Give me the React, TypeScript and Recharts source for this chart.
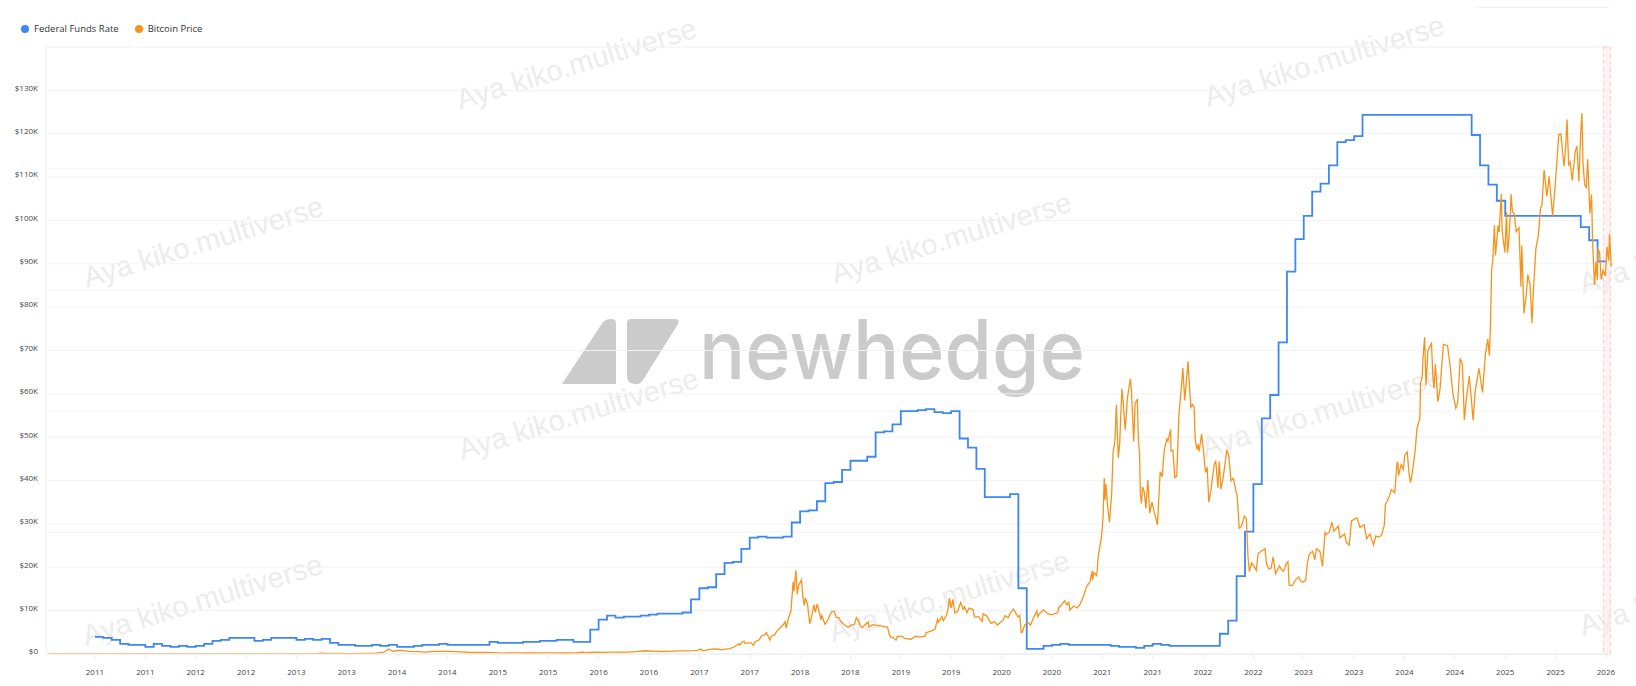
import React from "react";
import { LineChart, Line, XAxis, YAxis, CartesianGrid, ReferenceArea } from "recharts";

// Federal funds rate, monthly (%), Jan..Dec
const fed2011 = [0.17, 0.16, 0.14, 0.1, 0.09, 0.09, 0.07, 0.1, 0.08, 0.07, 0.08, 0.07];
const fed2012 = [0.08, 0.1, 0.13, 0.14, 0.16, 0.16, 0.16, 0.13, 0.14, 0.16, 0.16, 0.16];
const fed2013 = [0.14, 0.15, 0.14, 0.15, 0.11, 0.09, 0.09, 0.08, 0.08, 0.09, 0.08, 0.09];
const fed2014 = [0.07, 0.07, 0.08, 0.09, 0.09, 0.1, 0.09, 0.09, 0.09, 0.09, 0.09, 0.12];
const fed2015 = [0.11, 0.11, 0.11, 0.12, 0.12, 0.13, 0.13, 0.14, 0.14, 0.12, 0.12, 0.24];
const fed2016 = [0.34, 0.38, 0.36, 0.37, 0.37, 0.38, 0.39, 0.4, 0.4, 0.4, 0.41, 0.54];
const fed2017 = [0.65, 0.66, 0.79, 0.9, 0.91, 1.04, 1.15, 1.16, 1.15, 1.15, 1.16, 1.3];
const fed2018 = [1.41, 1.42, 1.51, 1.69, 1.7, 1.82, 1.91, 1.91, 1.95, 2.19, 2.2, 2.27];
const fed2019 = [2.4, 2.4, 2.41, 2.42, 2.39, 2.38, 2.4, 2.13, 2.04, 1.83, 1.55, 1.55];
const fed2020 = [1.55, 1.58, 0.65, 0.05, 0.05, 0.08, 0.09, 0.1, 0.09, 0.09, 0.09, 0.09];
const fed2021 = [0.09, 0.08, 0.07, 0.07, 0.06, 0.08, 0.1, 0.09, 0.08, 0.08, 0.08, 0.08];
const fed2022 = [0.08, 0.08, 0.2, 0.33, 0.77, 1.21, 1.68, 2.33, 2.56, 3.08, 3.78, 4.1];
const fed2023 = [4.33, 4.57, 4.65, 4.83, 5.06, 5.08, 5.12, 5.33, 5.33, 5.33, 5.33, 5.33];
const fed2024 = [5.33, 5.33, 5.33, 5.33, 5.33, 5.33, 5.33, 5.33, 5.13, 4.83, 4.64, 4.48];
const fed2025 = [4.33, 4.33, 4.33, 4.33, 4.33, 4.33, 4.33, 4.33, 4.33, 4.22, 4.09, 3.88];
const fed2026 = [3.88];
const fedYears = [fed2011, fed2012, fed2013, fed2014, fed2015, fed2016, fed2017, fed2018,
  fed2019, fed2020, fed2021, fed2022, fed2023, fed2024, fed2025, fed2026];

// Bitcoin price (USD)
const btc2010: [string, number][] = [["2010-07-18", 0.09], ["2010-09-15", 0.06], ["2010-11-15", 0.27], ["2010-12-15", 0.24]];
const btc2011: [string, number][] = [["2011-01-15", 0.4], ["2011-02-15", 0.9], ["2011-04-15", 1.5], ["2011-05-15", 7], ["2011-06-10", 25], ["2011-07-15", 14], ["2011-08-15", 9], ["2011-09-15", 5], ["2011-11-15", 2.5], ["2011-12-15", 4]];
const btc2012: [string, number][] = [["2012-01-15", 6], ["2012-03-15", 5], ["2012-05-15", 5], ["2012-07-15", 8], ["2012-09-15", 11], ["2012-11-15", 11], ["2012-12-15", 13]];
const btc2013: [string, number][] = [["2013-01-15", 14], ["2013-02-15", 25], ["2013-03-15", 60], ["2013-04-10", 200], ["2013-04-16", 90], ["2013-05-15", 120], ["2013-07-15", 90], ["2013-09-15", 130], ["2013-10-15", 180], ["2013-11-15", 420], ["2013-11-30", 1150], ["2013-12-18", 600], ["2013-12-28", 750]];
const btc2014: [string, number][] = [["2014-01-15", 850], ["2014-02-15", 600], ["2014-03-15", 550], ["2014-04-15", 450], ["2014-05-15", 600], ["2014-06-15", 600], ["2014-07-15", 620], ["2014-08-15", 500], ["2014-09-15", 400], ["2014-10-15", 350], ["2014-11-15", 370], ["2014-12-15", 320]];
const btc2015: [string, number][] = [["2015-01-15", 220], ["2015-02-15", 240], ["2015-03-15", 250], ["2015-04-15", 225], ["2015-05-15", 235], ["2015-06-15", 250], ["2015-07-15", 280], ["2015-08-15", 230], ["2015-09-15", 235], ["2015-10-15", 300], ["2015-11-05", 400], ["2015-11-15", 330], ["2015-12-15", 450]];
const btc2016: [string, number][] = [["2016-01-15", 380], ["2016-02-15", 430], ["2016-03-15", 415], ["2016-04-15", 450], ["2016-05-15", 530], ["2016-06-17", 750], ["2016-07-15", 650], ["2016-08-15", 575], ["2016-09-15", 610], ["2016-10-15", 700], ["2016-11-15", 740], ["2016-12-15", 780], ["2016-12-30", 960]];
const btc2017: [string, number][] = [["2017-01-05", 1130], ["2017-01-12", 780], ["2017-01-25", 890], ["2017-02-08", 1050], ["2017-02-23", 1180], ["2017-03-10", 1100], ["2017-03-24", 940], ["2017-04-05", 1120], ["2017-04-20", 1230], ["2017-05-05", 1550], ["2017-05-25", 2400], ["2017-05-28", 2050], ["2017-06-06", 2870], ["2017-06-12", 2960], ["2017-06-15", 2450], ["2017-06-27", 2580], ["2017-07-08", 2550], ["2017-07-16", 1930], ["2017-07-22", 2830], ["2017-08-05", 3230], ["2017-08-17", 4300], ["2017-08-24", 4330], ["2017-09-01", 4900], ["2017-09-14", 3230], ["2017-09-18", 4100], ["2017-09-29", 4360], ["2017-10-12", 5440], ["2017-10-20", 6000], ["2017-11-01", 6750], ["2017-11-08", 7460], ["2017-11-12", 5950], ["2017-11-20", 8250], ["2017-11-29", 9900], ["2017-12-07", 16700], ["2017-12-10", 14500], ["2017-12-17", 19300], ["2017-12-22", 13800], ["2017-12-27", 15800]];
const btc2018: [string, number][] = [["2018-01-06", 17100], ["2018-01-11", 13400], ["2018-01-16", 11200], ["2018-01-20", 12900], ["2018-01-28", 11500], ["2018-02-05", 6950], ["2018-02-10", 8100], ["2018-02-20", 11400], ["2018-02-25", 9600], ["2018-03-04", 11500], ["2018-03-18", 7900], ["2018-03-21", 8900], ["2018-04-01", 6850], ["2018-04-12", 7900], ["2018-04-24", 9700], ["2018-05-05", 9850], ["2018-05-12", 8450], ["2018-05-21", 8400], ["2018-05-29", 7500], ["2018-06-10", 6750], ["2018-06-24", 6150], ["2018-07-07", 6700], ["2018-07-16", 6700], ["2018-07-24", 8400], ["2018-08-01", 7600], ["2018-08-10", 6200], ["2018-08-14", 6050], ["2018-08-27", 6900], ["2018-09-05", 7400], ["2018-09-08", 6200], ["2018-09-21", 6760], ["2018-10-10", 6550], ["2018-10-15", 6600], ["2018-10-31", 6350], ["2018-11-14", 6200], ["2018-11-20", 4600], ["2018-11-25", 3900], ["2018-12-03", 3850], ["2018-12-15", 3200], ["2018-12-20", 4100], ["2018-12-24", 4050]];
const btc2019: [string, number][] = [["2019-01-06", 4050], ["2019-01-15", 3600], ["2019-02-07", 3400], ["2019-02-24", 4100], ["2019-03-10", 3900], ["2019-03-30", 4100], ["2019-04-03", 4900], ["2019-04-20", 5300], ["2019-05-05", 5700], ["2019-05-14", 8000], ["2019-05-17", 7350], ["2019-05-30", 8650], ["2019-06-04", 7700], ["2019-06-16", 8980], ["2019-06-22", 10700], ["2019-06-26", 12900], ["2019-06-28", 12300], ["2019-07-02", 10600], ["2019-07-09", 12600], ["2019-07-16", 9450], ["2019-07-26", 9850], ["2019-08-06", 11900], ["2019-08-15", 10300], ["2019-08-20", 10900], ["2019-08-29", 9500], ["2019-09-05", 10600], ["2019-09-20", 10200], ["2019-09-25", 8500], ["2019-10-10", 8600], ["2019-10-23", 7500], ["2019-10-26", 9250], ["2019-11-08", 8800], ["2019-11-22", 7300], ["2019-11-25", 7050], ["2019-12-07", 7500], ["2019-12-17", 6650], ["2019-12-27", 7250]];
const btc2020: [string, number][] = [["2020-01-06", 7750], ["2020-01-14", 8850], ["2020-01-25", 8350], ["2020-02-01", 9400], ["2020-02-13", 10350], ["2020-02-20", 9600], ["2020-03-01", 8550], ["2020-03-07", 8900], ["2020-03-12", 4950], ["2020-03-16", 5000], ["2020-03-25", 6700], ["2020-04-07", 7200], ["2020-04-15", 6650], ["2020-04-29", 8800], ["2020-05-08", 9950], ["2020-05-11", 8600], ["2020-05-20", 9500], ["2020-06-01", 10200], ["2020-06-15", 9400], ["2020-06-27", 9050], ["2020-07-10", 9250], ["2020-07-22", 9500], ["2020-07-28", 10950], ["2020-08-02", 11050], ["2020-08-17", 12300], ["2020-08-25", 11350], ["2020-09-01", 11900], ["2020-09-05", 10150], ["2020-09-18", 11080], ["2020-10-01", 10620], ["2020-10-10", 11300], ["2020-10-21", 12800], ["2020-11-05", 15600], ["2020-11-17", 16700], ["2020-11-24", 19150], ["2020-11-26", 17100], ["2020-12-01", 18800], ["2020-12-11", 18050], ["2020-12-17", 22800], ["2020-12-27", 26500], ["2020-12-31", 29000]];
const btc2021: [string, number][] = [["2021-01-04", 31900], ["2021-01-08", 40600], ["2021-01-11", 35500], ["2021-01-14", 39200], ["2021-01-22", 33000], ["2021-01-27", 30400], ["2021-02-04", 36900], ["2021-02-09", 46400], ["2021-02-16", 49200], ["2021-02-21", 57500], ["2021-02-28", 45200], ["2021-03-05", 48400], ["2021-03-13", 61200], ["2021-03-18", 57900], ["2021-03-25", 51700], ["2021-04-02", 59000], ["2021-04-13", 63500], ["2021-04-17", 60300], ["2021-04-25", 49000], ["2021-04-30", 57800], ["2021-05-08", 58800], ["2021-05-12", 49200], ["2021-05-16", 46400], ["2021-05-19", 37000], ["2021-05-23", 34700], ["2021-05-27", 38500], ["2021-06-02", 37500], ["2021-06-08", 33600], ["2021-06-15", 40200], ["2021-06-22", 32500], ["2021-06-30", 35000], ["2021-07-08", 32900], ["2021-07-20", 29800], ["2021-07-26", 37300], ["2021-07-30", 42000], ["2021-08-06", 40900], ["2021-08-14", 47100], ["2021-08-23", 49600], ["2021-08-27", 49100], ["2021-09-06", 51800], ["2021-09-07", 46800], ["2021-09-14", 47000], ["2021-09-21", 40700], ["2021-09-28", 41000], ["2021-10-06", 55300], ["2021-10-15", 61600], ["2021-10-20", 66000], ["2021-10-27", 58500], ["2021-11-02", 63000], ["2021-11-08", 67500], ["2021-11-10", 64900], ["2021-11-18", 56900], ["2021-11-24", 57500], ["2021-11-30", 57000], ["2021-12-04", 49400], ["2021-12-10", 47200], ["2021-12-14", 48400], ["2021-12-18", 46700], ["2021-12-27", 50700]];
const btc2022: [string, number][] = [["2022-01-02", 47300], ["2022-01-10", 41900], ["2022-01-16", 43100], ["2022-01-22", 35000], ["2022-01-30", 37900], ["2022-02-10", 43500], ["2022-02-16", 44600], ["2022-02-24", 38300], ["2022-03-01", 44400], ["2022-03-07", 38000], ["2022-03-16", 41100], ["2022-03-28", 47100], ["2022-04-05", 45500], ["2022-04-12", 40000], ["2022-04-21", 40500], ["2022-04-30", 37700], ["2022-05-05", 36500], ["2022-05-12", 29000], ["2022-05-20", 29400], ["2022-05-31", 31800], ["2022-06-07", 31200], ["2022-06-13", 22500], ["2022-06-18", 19000], ["2022-06-26", 21000], ["2022-07-05", 20200], ["2022-07-13", 19300], ["2022-07-20", 23200], ["2022-07-30", 23650], ["2022-08-14", 24300], ["2022-08-19", 20800], ["2022-08-28", 19550], ["2022-09-05", 19800], ["2022-09-12", 22400], ["2022-09-21", 18500], ["2022-10-05", 20300], ["2022-10-13", 19400], ["2022-10-20", 19100], ["2022-10-29", 20800], ["2022-11-05", 21300], ["2022-11-09", 15900], ["2022-11-21", 15800], ["2022-12-01", 17000], ["2022-12-14", 17800], ["2022-12-20", 16900], ["2022-12-30", 16550]];
const btc2023: [string, number][] = [["2023-01-08", 17100], ["2023-01-14", 20900], ["2023-01-21", 23000], ["2023-02-02", 23700], ["2023-02-10", 21700], ["2023-02-16", 24300], ["2023-03-01", 23600], ["2023-03-10", 20200], ["2023-03-19", 28000], ["2023-03-24", 27500], ["2023-04-04", 28200], ["2023-04-13", 30400], ["2023-04-20", 28300], ["2023-05-06", 29500], ["2023-05-12", 26800], ["2023-05-29", 27700], ["2023-06-05", 25700], ["2023-06-15", 25100], ["2023-06-23", 30700], ["2023-07-04", 31100], ["2023-07-13", 31400], ["2023-07-24", 29200], ["2023-08-08", 29800], ["2023-08-17", 26600], ["2023-08-29", 27700], ["2023-09-11", 25100], ["2023-09-19", 27200], ["2023-09-30", 27000], ["2023-10-10", 27400], ["2023-10-20", 29700], ["2023-10-24", 34500], ["2023-11-01", 35400], ["2023-11-09", 36700], ["2023-11-15", 37900], ["2023-11-27", 37200], ["2023-12-05", 44000], ["2023-12-08", 44200], ["2023-12-11", 41200], ["2023-12-20", 43700], ["2023-12-28", 42600]];
const btc2024: [string, number][] = [["2024-01-02", 45900], ["2024-01-11", 46600], ["2024-01-18", 41300], ["2024-01-23", 39500], ["2024-02-01", 43100], ["2024-02-09", 47100], ["2024-02-15", 51900], ["2024-02-26", 54500], ["2024-02-28", 62500], ["2024-03-05", 63800], ["2024-03-08", 68300], ["2024-03-14", 73100], ["2024-03-19", 62000], ["2024-03-26", 70000], ["2024-04-08", 71600], ["2024-04-13", 63800], ["2024-04-17", 61300], ["2024-04-22", 66800], ["2024-05-01", 58200], ["2024-05-09", 61200], ["2024-05-15", 66300], ["2024-05-21", 71400], ["2024-06-05", 71100], ["2024-06-15", 66200], ["2024-06-24", 60300], ["2024-07-05", 56700], ["2024-07-12", 57900], ["2024-07-21", 68200], ["2024-07-29", 66800], ["2024-08-05", 54000], ["2024-08-12", 58700], ["2024-08-23", 64100], ["2024-09-06", 53950], ["2024-09-13", 60500], ["2024-09-27", 65900], ["2024-10-10", 60300], ["2024-10-20", 69000], ["2024-10-29", 72700], ["2024-11-04", 68800], ["2024-11-08", 76700], ["2024-11-12", 88700], ["2024-11-16", 90600], ["2024-11-22", 98900], ["2024-11-26", 91900], ["2024-12-05", 98800], ["2024-12-09", 97300], ["2024-12-17", 106100], ["2024-12-20", 97700], ["2024-12-30", 92600]];
const btc2025: [string, number][] = [["2025-01-06", 102000], ["2025-01-09", 92500], ["2025-01-13", 94500], ["2025-01-20", 102000], ["2025-01-22", 106100], ["2025-01-27", 102100], ["2025-02-03", 101400], ["2025-02-10", 97400], ["2025-02-20", 98300], ["2025-02-27", 84700], ["2025-03-02", 94200], ["2025-03-10", 78600], ["2025-03-18", 82700], ["2025-03-24", 87500], ["2025-04-01", 85200], ["2025-04-08", 76300], ["2025-04-13", 83700], ["2025-04-22", 93400], ["2025-05-01", 96500], ["2025-05-09", 102900], ["2025-05-14", 103500], ["2025-05-22", 111700], ["2025-06-01", 105600], ["2025-06-09", 110200], ["2025-06-17", 104500], ["2025-06-22", 101000], ["2025-06-30", 107100], ["2025-07-10", 116000], ["2025-07-14", 119800], ["2025-07-22", 119900], ["2025-08-02", 112500], ["2025-08-08", 116700], ["2025-08-13", 123300], ["2025-08-19", 112900], ["2025-08-24", 113500], ["2025-09-01", 109200], ["2025-09-12", 116000], ["2025-09-18", 117100], ["2025-09-25", 109000], ["2025-10-02", 120500], ["2025-10-06", 124700], ["2025-10-10", 113200], ["2025-10-16", 108200], ["2025-10-22", 107600], ["2025-10-27", 114100], ["2025-11-04", 101600], ["2025-11-10", 106000], ["2025-11-14", 94500], ["2025-11-21", 85100], ["2025-11-26", 90500], ["2025-12-01", 86300], ["2025-12-03", 93400], ["2025-12-09", 92700], ["2025-12-15", 86400], ["2025-12-22", 88500], ["2025-12-30", 87200]];
const btc2026: [string, number][] = [["2026-01-05", 93900], ["2026-01-11", 90700], ["2026-01-14", 96900], ["2026-01-20", 89500], ["2026-01-22", 89900]];
const btcYears = [btc2010, btc2011, btc2012, btc2013, btc2014, btc2015, btc2016, btc2017, btc2018,
  btc2019, btc2020, btc2021, btc2022, btc2023, btc2024, btc2025, btc2026];

const priceTicks = [0, 10000, 20000, 30000, 40000, 50000, 60000, 70000, 80000, 90000, 100000, 110000, 120000, 130000, 140000];
const rateTicks = [0, 1.2, 2.4, 3.6, 4.8, 6];
const halfYearTicks = Array.from({ length: 31 }, (_, i) => 2011 + i / 2);

const watermarks = [
  [577, 66], [1325, 63],
  [204, 244], [952, 240], [1700, 250],
  [579, 416], [1322, 414],
  [203, 602], [950, 598], [1700, 592],
];

const toYear = (s: string) => {
  const d = new Date(s + "T00:00:00Z");
  const y = d.getUTCFullYear();
  return y + (d.getTime() - Date.UTC(y, 0, 1)) / (365.25 * 864e5);
};

const fedData = fedYears.flatMap((rates, yi) =>
  rates.map((r, m) => ({ t: 2011 + yi + m / 12, rate: r }))
);
const btcData = btcYears.flatMap((rows) => rows.map(([d, p]) => ({ t: toYear(d), price: p })));

const fmtPrice = (v: number) => (v === 140000 ? "" : v === 0 ? "$0" : `$${v / 1000}K`);

const Legend = () => (
  <div style={{ position: "absolute", top: 22, left: 21, display: "flex", alignItems: "center", fontFamily: "'Open Sans', sans-serif", fontSize: 9.5, color: "#333" }}>
    <span style={{ width: 8, height: 8, borderRadius: 4, background: "#3d87f5", marginRight: 5 }} />
    <span style={{ marginRight: 16 }}>Federal Funds Rate</span>
    <span style={{ width: 8, height: 8, borderRadius: 4, background: "#f7931a", marginRight: 5 }} />
    <span>Bitcoin Price</span>
  </div>
);

const Watermark = () => (
  <svg width={1636} height={686} style={{ position: "absolute", top: 0, left: 0 }}>
    {watermarks.map(([x, y], i) => (
      <text key={i} x={x} y={y} textAnchor="middle" dominantBaseline="middle" fontSize={29}
        fontFamily="'Liberation Sans', Arial, sans-serif" fill="#ececec" transform={`rotate(-17 ${x} ${y})`}>
        Aya kiko.multiverse
      </text>
    ))}
    <path d="M562 384 L603 322 Q606 319 610 319 L612 319 Q616 319 616 324 L616 384 Z" fill="#cbcbcb" />
    <path d="M627 323 Q627 319 631 319 L676 319 Q680 320 678 324 L643 380 Q640 385 634 384 Q627 383 627 376 Z" fill="#cbcbcb" />
    <text x={699} y={379} fontSize={82} fontWeight={500} fontFamily="Inter, sans-serif" fill="#cbcbcb"
      textLength={386} lengthAdjust="spacingAndGlyphs">
      newhedge
    </text>
  </svg>
);

export default function App() {
  return (
    <div style={{ position: "absolute", top: 0, left: 0, width: 1636, height: 686, background: "#fff", overflow: "hidden" }}>
      <Watermark />
      <Legend />
      <div style={{ position: "absolute", top: 7, left: 1477, width: 132, height: 1, background: "#f1f1f1" }} />
      <div style={{ position: "absolute", top: 0, left: 0 }}>
        <LineChart width={1636} height={686} margin={{ top: 47, right: 24, left: 0, bottom: 0 }}>
          <CartesianGrid vertical={false} stroke="#f2f2f2" yAxisId="btc" />
          <CartesianGrid vertical={false} horizontal stroke="#f4f4f4" yAxisId="fed" />
          <XAxis
            type="number"
            dataKey="t"
            domain={[2010.514, 2026.06]}
            ticks={halfYearTicks}
            allowDataOverflow
            tickFormatter={(v: number) => String(Math.floor(v))}
            tick={{ fontSize: 8, fill: "#444", fontFamily: "'Open Sans', sans-serif" }}
            axisLine={{ stroke: "#ececec" }}
            tickLine={{ stroke: "#ececec" }}
            tickSize={5}
            tickMargin={10}
            height={32}
          />
          <YAxis
            yAxisId="btc"
            domain={[0, 140000]}
            ticks={priceTicks}
            tickFormatter={fmtPrice}
            tick={{ fontSize: 8, fill: "#444", fontFamily: "'Open Sans', sans-serif", dy: -2.5 }}
            axisLine={{ stroke: "#ececec" }}
            tickLine={false}
            tickMargin={2}
            width={46}
            allowDataOverflow
          />
          <YAxis yAxisId="fed" orientation="right" hide domain={[0, 6]} ticks={rateTicks} allowDataOverflow />
          <ReferenceArea
            yAxisId="btc"
            x1={2025.975}
            x2={2026.045}
            fill="#fde8e8"
            fillOpacity={0.6}
            stroke="#f9d0d0"
            strokeDasharray="4 3"
          />
          <Line
            yAxisId="fed"
            data={fedData}
            dataKey="rate"
            type="stepAfter"
            stroke="#3d87f5"
            strokeWidth={1.8}
            dot={false}
            activeDot={false}
            isAnimationActive={false}
          />
          <Line
            yAxisId="btc"
            data={btcData}
            dataKey="price"
            stroke="#f7931a"
            strokeWidth={1.3}
            dot={false}
            activeDot={false}
            isAnimationActive={false}
          />
        </LineChart>
      </div>
    </div>
  );
}
